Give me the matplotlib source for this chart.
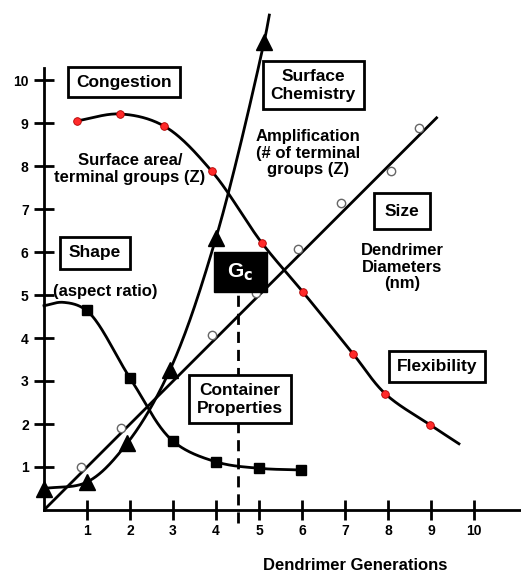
import numpy as np
import matplotlib
matplotlib.use("Agg")
import matplotlib.pyplot as plt
from matplotlib.patches import Rectangle

plt.rcParams['font.family'] = ['Liberation Sans', 'DejaVu Sans']
plt.rcParams['font.weight'] = 'bold'

# congestion / flexibility (red dots), curve runs a little past the last dot
flex_x = [0.77, 1.77, 2.79, 3.90, 5.06, 6.02, 7.19, 7.94, 8.98]
flex_y = [9.05, 9.21, 8.93, 7.88, 6.22, 5.07, 3.63, 2.70, 1.98]
flex_tail = (9.65, 1.54)

# shape / aspect ratio (squares), curve starts on the y axis
shape_x = [0.99, 2.00, 2.99, 4.00, 5.00, 5.98]
shape_y = [4.64, 3.07, 1.61, 1.12, 0.97, 0.93]
shape_head = [(0.0, 4.75), (0.44, 4.83)]

# surface chemistry (triangles)
chem_x = [0.0, 1.0, 1.94, 2.93, 4.0, 5.12]
chem_y = [0.50, 0.65, 1.56, 3.26, 6.33, 10.89]
chem_tail = (5.24, 11.51)

# size (open circles) and its straight line
size_x = [0.86, 1.78, 3.91, 4.93, 5.90, 6.90, 8.07, 8.72]
size_y = [1.00, 1.91, 4.07, 5.05, 6.07, 7.14, 7.88, 8.89]
size_line_x = [0.0, 9.13]
size_line_y = [0.0, 9.12]

gc_x = 4.5
ticks = list(range(1, 11))


def smooth(xs, ys, n=40, alpha=0.5):
    # centripetal catmull-rom through the read points
    pts = np.column_stack([xs, ys]).astype(float)
    p = np.vstack([2 * pts[0] - pts[1], pts, 2 * pts[-1] - pts[-2]])
    out = []
    for i in range(1, len(p) - 2):
        p0, p1, p2, p3 = p[i - 1], p[i], p[i + 1], p[i + 2]
        t0 = 0.0
        t1 = t0 + np.linalg.norm(p1 - p0) ** alpha
        t2 = t1 + np.linalg.norm(p2 - p1) ** alpha
        t3 = t2 + np.linalg.norm(p3 - p2) ** alpha
        t = np.linspace(t1, t2, n)[:, None]
        a1 = (t1 - t) / (t1 - t0) * p0 + (t - t0) / (t1 - t0) * p1
        a2 = (t2 - t) / (t2 - t1) * p1 + (t - t1) / (t2 - t1) * p2
        a3 = (t3 - t) / (t3 - t2) * p2 + (t - t2) / (t3 - t2) * p3
        b1 = (t2 - t) / (t2 - t0) * a1 + (t - t0) / (t2 - t0) * a2
        b2 = (t3 - t) / (t3 - t1) * a2 + (t - t1) / (t3 - t1) * a3
        out.append((t2 - t) / (t2 - t1) * b1 + (t - t1) / (t2 - t1) * b2)
    c = np.vstack(out)
    return c[:, 0], c[:, 1]


fig = plt.figure(figsize=(5.21, 5.72), dpi=100)
ax = fig.add_axes([44 / 521, 62 / 572, 477 / 521, 442 / 572])
ax.set_xlim(0, 477 / 43)
ax.set_ylim(0, 442 / 43)

for s in ['top', 'right']:
    ax.spines[s].set_visible(False)
for s in ['left', 'bottom']:
    ax.spines[s].set_linewidth(2)

ax.set_xticks(ticks)
ax.set_xticklabels([str(v) for v in ticks], fontsize=10, fontweight='bold')
ax.set_yticks(ticks)
ax.set_yticklabels([str(v) for v in ticks], fontsize=10, fontweight='bold')
ax.tick_params(direction='inout', length=14, width=2)
ax.tick_params(axis='y', pad=4)
ax.tick_params(axis='x', pad=3)

lw = 2
# flexibility curve
cx, cy = smooth(flex_x + [flex_tail[0]], flex_y + [flex_tail[1]])
ax.plot(cx, cy, color='black', lw=lw, zorder=2)
ax.plot(flex_x, flex_y, 'o', ms=5.5, mfc='#ff2a2a', mec='#b00000', mew=0.6, zorder=3)

# shape curve
hx = [h[0] for h in shape_head] + shape_x
hy = [h[1] for h in shape_head] + shape_y
cx, cy = smooth(hx, hy)
ax.plot(cx, cy, color='black', lw=lw, zorder=2, clip_on=False)
ax.plot(shape_x, shape_y, 's', ms=7, color='black', zorder=3)

# surface chemistry curve
cx, cy = smooth(chem_x + [chem_tail[0]], chem_y + [chem_tail[1]])
ax.plot(cx, cy, color='black', lw=lw, zorder=2, clip_on=False)
ax.plot(chem_x, chem_y, '^', ms=11, color='black', zorder=3, clip_on=False)

# size line
ax.plot(size_line_x, size_line_y, color='black', lw=lw, zorder=2)
ax.plot(size_x, size_y, 'o', ms=6, mfc='white', mec='#666666', mew=1, zorder=3)

# critical generation
ax.plot([gc_x, gc_x], [-0.3, 5.07], color='black', lw=2, ls=(0, (4, 2.5)),
        zorder=1, clip_on=False)
ax.add_patch(Rectangle((3.95, 5.07), 1.24, 0.93, fc='black', ec='black', zorder=5))
ax.text(4.57, 5.52, r'G$_\mathbf{c}$', color='white', fontsize=15, fontweight='bold',
        ha='center', va='center', zorder=6)

box = dict(boxstyle='square,pad=0.45', fc='white', ec='black', lw=2)
kw = dict(ha='center', va='center', fontweight='bold', zorder=6)
ax.text(1.86, 9.95, 'Congestion', fontsize=12.5, bbox=box, **kw)
ax.text(1.19, 5.98, 'Shape', fontsize=12.5, bbox=dict(box, boxstyle='square,pad=0.5'), **kw)
ax.text(6.26, 9.88, 'Surface\nChemistry', fontsize=12.5, bbox=box, linespacing=1.25, **kw)
ax.text(8.33, 6.95, 'Size', fontsize=12.5, bbox=dict(box, boxstyle='square,pad=0.6'), **kw)
ax.text(4.56, 2.58, 'Container\nProperties', fontsize=12.5, bbox=box, linespacing=1.25, **kw)
ax.text(9.14, 3.33, 'Flexibility', fontsize=12.5, bbox=box, **kw)

ax.text(1.42, 5.09, '(aspect ratio)', fontsize=12, **kw)
ax.text(2.0, 7.93, 'Surface area/\nterminal groups (Z)', fontsize=12, linespacing=1.1, **kw)
ax.text(6.14, 8.3, 'Amplification\n(# of terminal\ngroups (Z)', fontsize=12, linespacing=1.1, **kw)
ax.text(8.33, 5.65, 'Dendrimer\nDiameters\n(nm)', fontsize=12, linespacing=1.1, **kw)

fig.text(355 / 521, 1 - 566 / 572, 'Dendrimer Generations', fontsize=12,
         fontweight='bold', ha='center', va='center')

fig.savefig('out.png', dpi=100)
